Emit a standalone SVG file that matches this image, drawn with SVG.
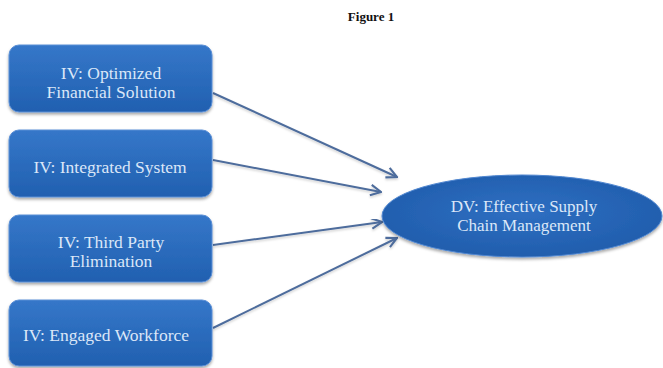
<svg xmlns="http://www.w3.org/2000/svg" width="663" height="368" viewBox="0 0 663 368">
<style>
.box{fill:url(#boxGrad);stroke:#5b8fd6;stroke-width:1;filter:url(#shadow)}
.lbl{font-family:"Liberation Serif","Times New Roman",serif;font-size:17.5px;fill:#dbe7f8;text-anchor:middle}
.dvl{font-size:17px}
.title{font-family:"Liberation Serif","Times New Roman",serif;font-size:13px;font-weight:bold;fill:#111;text-anchor:middle}
.conn{stroke:#4d6c9c;stroke-width:2;fill:none;marker-end:url(#arrow);filter:url(#lshadow)}
</style>
<defs>
<linearGradient id="boxGrad" x1="0" y1="0" x2="0" y2="1">
<stop offset="0" stop-color="#3577c9"/>
<stop offset="1" stop-color="#2160b0"/>
</linearGradient>
<radialGradient id="ellGrad" cx="0.5" cy="0.45" r="0.6">
<stop offset="0" stop-color="#2f6fc2"/>
<stop offset="1" stop-color="#1f5cab"/>
</radialGradient>
<filter id="shadow" x="-10%" y="-10%" width="120%" height="130%">
<feDropShadow dx="0" dy="2" stdDeviation="1.5" flood-color="#000" flood-opacity="0.35"/>
</filter>
<filter id="lshadow" x="-10%" y="-10%" width="120%" height="130%">
<feDropShadow dx="0" dy="1.5" stdDeviation="1" flood-color="#000" flood-opacity="0.2"/>
</filter>
<marker id="arrow" viewBox="0 0 10 10" refX="9" refY="5" markerWidth="6.5" markerHeight="6.5" orient="auto" markerUnits="strokeWidth">
<path d="M1,1 L9,5 L1,9" fill="none" stroke="#4d6c9c" stroke-width="1.6" stroke-linejoin="miter"/>
</marker>
</defs>
<rect width="663" height="368" fill="#fff"/>
<text class="title" x="371" y="21">Figure 1</text>
<g id="connectors">
<line class="conn" x1="213" y1="93" x2="397" y2="177"/>
<line class="conn" x1="213" y1="160" x2="381" y2="192"/>
<line class="conn" x1="213" y1="245" x2="382" y2="222"/>
<line class="conn" x1="213" y1="328" x2="397" y2="238"/>
</g>
<g id="iv1">
<rect class="box" x="9" y="45" width="203" height="67" rx="10"/>
<text class="lbl" x="111" y="79">IV: Optimized</text>
<text class="lbl" x="111" y="98">Financial Solution</text>
</g>
<g id="iv2">
<rect class="box" x="9" y="130" width="203" height="67" rx="10"/>
<text class="lbl" x="110" y="173">IV: Integrated System</text>
</g>
<g id="iv3">
<rect class="box" x="9" y="215" width="203" height="67" rx="10"/>
<text class="lbl" x="111" y="248">IV: Third Party</text>
<text class="lbl" x="111" y="267">Elimination</text>
</g>
<g id="iv4">
<rect class="box" x="9" y="300" width="203" height="66" rx="10"/>
<text class="lbl" x="106" y="341">IV: Engaged Workforce</text>
</g>
<g id="dv">
<ellipse cx="522" cy="216" rx="140" ry="41" fill="url(#ellGrad)" stroke="#4f86d0" stroke-width="1" filter="url(#shadow)"/>
<text class="lbl dvl" x="524" y="212">DV: Effective Supply</text>
<text class="lbl dvl" x="524" y="231">Chain Management</text>
</g>
</svg>
